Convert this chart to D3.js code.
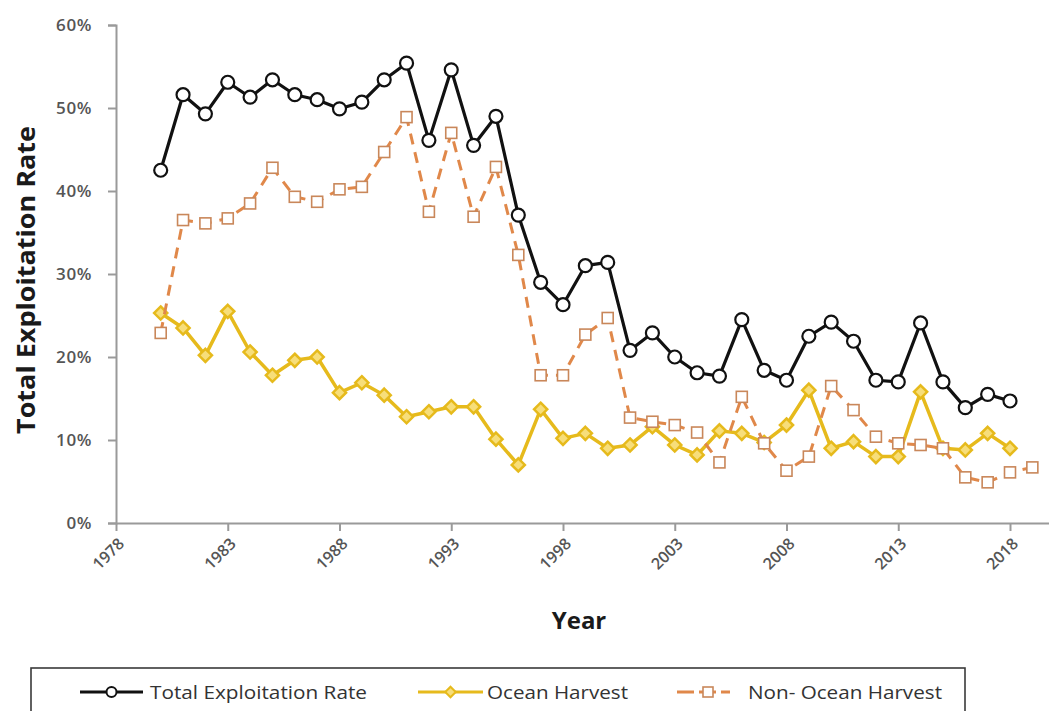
<!DOCTYPE html>
<html>
<head>
<meta charset="utf-8">
<script src="https://cdn.jsdelivr.net/npm/d3@7"></script>
<style>
  html, body { margin: 0; padding: 0; background: #fff; }
  svg { display: block; }
  text { font-family: "Open Sans", "Noto Sans", sans-serif; }
</style>
</head>
<body>
<svg id="chart" width="1049" height="711"></svg>
<script>
// Exploitation rates by return year (fraction of run)
const years = d3.range(1980, 2019);
const yearsNonOcean = d3.range(1980, 2020);

const totalRate = [
  0.425, 0.516, 0.493, 0.531, 0.513, 0.534, 0.516, 0.510, 0.499, 0.507,
  0.534, 0.554, 0.461, 0.546, 0.455, 0.490, 0.371, 0.290, 0.263, 0.310,
  0.314, 0.208, 0.229, 0.200, 0.181, 0.177, 0.245, 0.184, 0.172, 0.225,
  0.242, 0.219, 0.172, 0.170, 0.241, 0.170, 0.139, 0.155, 0.147
];

const oceanHarvest = [
  0.253, 0.235, 0.202, 0.255, 0.206, 0.178, 0.196, 0.200, 0.157, 0.169,
  0.154, 0.128, 0.134, 0.140, 0.140, 0.101, 0.070, 0.137, 0.102, 0.108,
  0.090, 0.094, 0.116, 0.094, 0.082, 0.111, 0.108, 0.097, 0.118, 0.160,
  0.090, 0.098, 0.080, 0.080, 0.158, 0.090, 0.088, 0.108, 0.090
];

const nonOceanHarvest = [
  0.229, 0.365, 0.361, 0.367, 0.385, 0.428, 0.393, 0.387, 0.402, 0.405,
  0.447, 0.489, 0.375, 0.470, 0.369, 0.429, 0.323, 0.178, 0.178, 0.227,
  0.247, 0.127, 0.122, 0.118, 0.109, 0.073, 0.152, 0.096, 0.063, 0.080,
  0.165, 0.136, 0.104, 0.096, 0.094, 0.090, 0.055, 0.049, 0.061, 0.067
];

const yTicks = [0, 0.1, 0.2, 0.3, 0.4, 0.5, 0.6];
const xTicks = [1978, 1983, 1988, 1993, 1998, 2003, 2008, 2013, 2018];

const seriesNames = ["Total Exploitation Rate", "Ocean Harvest", "Non- Ocean Harvest"];

const svg = d3.select("#chart");

const x = d3.scaleLinear().domain([1978, 2020]).range([116, 1054.7]);
const y = d3.scaleLinear().domain([0, 0.6]).range([523, 25]);

const axisGrey = "#9a9a9a";
const labelGrey = "#555";

// Y axis
const yAxis = svg.append("g")
  .attr("transform", `translate(${x(1978)},0)`)
  .call(d3.axisLeft(y).tickValues(yTicks).tickFormat(d3.format(".0%")).tickSize(8).tickPadding(16));
yAxis.select(".domain").attr("stroke", axisGrey).attr("stroke-width", 2);
yAxis.selectAll(".tick line").attr("stroke", axisGrey).attr("stroke-width", 2);
yAxis.selectAll(".tick text")
  .attr("fill", labelGrey).attr("font-size", 17).attr("font-weight", 600)
  .attr("letter-spacing", 0.6);

// X axis
const xAxis = svg.append("g")
  .attr("transform", `translate(0,${y(0)})`)
  .call(d3.axisBottom(x).tickValues(xTicks).tickFormat(d3.format("d")).tickSize(8).tickSizeOuter(0));
xAxis.select(".domain").attr("stroke", axisGrey).attr("stroke-width", 2);
xAxis.selectAll(".tick line").attr("stroke", axisGrey).attr("stroke-width", 2);
xAxis.selectAll(".tick text")
  .attr("fill", labelGrey).attr("font-size", 16).attr("font-weight", 600)
  .attr("text-anchor", "end")
  .attr("dy", "0.35em")
  .attr("transform", "translate(-3,10) rotate(-45)");

// Axis titles
svg.append("text")
  .attr("transform", `translate(35,${(y(0) + y(0.6)) / 2 + 6}) rotate(-90)`)
  .attr("text-anchor", "middle")
  .attr("textLength", 308).attr("lengthAdjust", "spacingAndGlyphs")
  .style("font-size", "25px").style("font-weight", "700").attr("fill", "#1a1a1a")
  .text("Total Exploitation Rate");

svg.append("text")
  .attr("x", 579).attr("y", 629)
  .attr("text-anchor", "middle")
  .style("font-size", "24px").style("font-weight", "700").attr("fill", "#1a1a1a")
  .text("Year");

const lineGen = d3.line().x(d => x(d[0])).y(d => y(d[1]));

const colTotal = "#111111";
const colOcean = "#E6BA1C";
const colOceanFill = "#F7DE7A";
const colNonLine = "#E0884A";
const colNonMarker = "#C9875A";

const diamond = d3.symbol().type(d3.symbolDiamond2).size(110);

// Ocean harvest
const oceanPts = years.map((yr, i) => [yr, oceanHarvest[i]]);
svg.append("path").datum(oceanPts)
  .attr("d", lineGen).attr("fill", "none")
  .attr("stroke", colOcean).attr("stroke-width", 3.5).attr("stroke-linejoin", "round");
svg.append("g").selectAll("path").data(oceanPts).join("path")
  .attr("d", diamond)
  .attr("transform", d => `translate(${x(d[0])},${y(d[1])})`)
  .attr("fill", colOceanFill).attr("stroke", colOcean).attr("stroke-width", 2.5);

// Non-ocean harvest
const nonPts = yearsNonOcean.map((yr, i) => [yr, nonOceanHarvest[i]]);
svg.append("path").datum(nonPts)
  .attr("d", lineGen).attr("fill", "none")
  .attr("stroke", colNonLine).attr("stroke-width", 3)
  .attr("stroke-dasharray", "11,8");
svg.append("g").selectAll("rect").data(nonPts).join("rect")
  .attr("x", d => x(d[0]) - 5.5).attr("y", d => y(d[1]) - 5.5)
  .attr("width", 11).attr("height", 11)
  .attr("fill", "#fff").attr("stroke", colNonMarker).attr("stroke-width", 1.6);

// Total exploitation rate
const totalPts = years.map((yr, i) => [yr, totalRate[i]]);
svg.append("path").datum(totalPts)
  .attr("d", lineGen).attr("fill", "none")
  .attr("stroke", colTotal).attr("stroke-width", 3.2).attr("stroke-linejoin", "round");
svg.append("g").selectAll("circle").data(totalPts).join("circle")
  .attr("cx", d => x(d[0])).attr("cy", d => y(d[1])).attr("r", 6.5)
  .attr("fill", "#fff").attr("stroke", colTotal).attr("stroke-width", 2.2);

// Legend
const legend = svg.append("g");
legend.append("rect")
  .attr("x", 31).attr("y", 668).attr("width", 934).attr("height", 60)
  .attr("fill", "#fff").attr("stroke", "#3a3a3a").attr("stroke-width", 1.6);

const legendY = 692;
const items = [
  { name: seriesNames[0], x0: 80, x1: 143, tx: 150, w: 217 },
  { name: seriesNames[1], x0: 418, x1: 483, tx: 487, w: 141 },
  { name: seriesNames[2], x0: 677, x1: 730, tx: 748, w: 194 }
];

// total
legend.append("line").attr("x1", items[0].x0).attr("x2", items[0].x1)
  .attr("y1", legendY).attr("y2", legendY).attr("stroke", colTotal).attr("stroke-width", 3);
legend.append("circle").attr("cx", (items[0].x0 + items[0].x1) / 2).attr("cy", legendY).attr("r", 5)
  .attr("fill", "#fff").attr("stroke", colTotal).attr("stroke-width", 2);
// ocean
legend.append("line").attr("x1", items[1].x0).attr("x2", items[1].x1)
  .attr("y1", legendY).attr("y2", legendY).attr("stroke", colOcean).attr("stroke-width", 3);
legend.append("path").attr("d", d3.symbol().type(d3.symbolDiamond2).size(70))
  .attr("transform", `translate(${(items[1].x0 + items[1].x1) / 2},${legendY})`)
  .attr("fill", colOceanFill).attr("stroke", colOcean).attr("stroke-width", 2);
// non-ocean
legend.append("line").attr("x1", items[2].x0).attr("x2", items[2].x1)
  .attr("y1", legendY).attr("y2", legendY).attr("stroke", colNonLine).attr("stroke-width", 3)
  .attr("stroke-dasharray", "17,5");
legend.append("rect").attr("x", 708 - 5).attr("y", legendY - 5).attr("width", 10).attr("height", 10)
  .attr("fill", "#fff").attr("stroke", colNonMarker).attr("stroke-width", 1.6);

legend.selectAll("text.lbl").data(items).join("text")
  .attr("class", "lbl")
  .attr("x", d => d.tx).attr("y", legendY + 7)
  .attr("textLength", d => d.w).attr("lengthAdjust", "spacingAndGlyphs")
  .style("font-size", "18px").attr("fill", "#333")
  .text(d => d.name);
</script>
</body>
</html>
